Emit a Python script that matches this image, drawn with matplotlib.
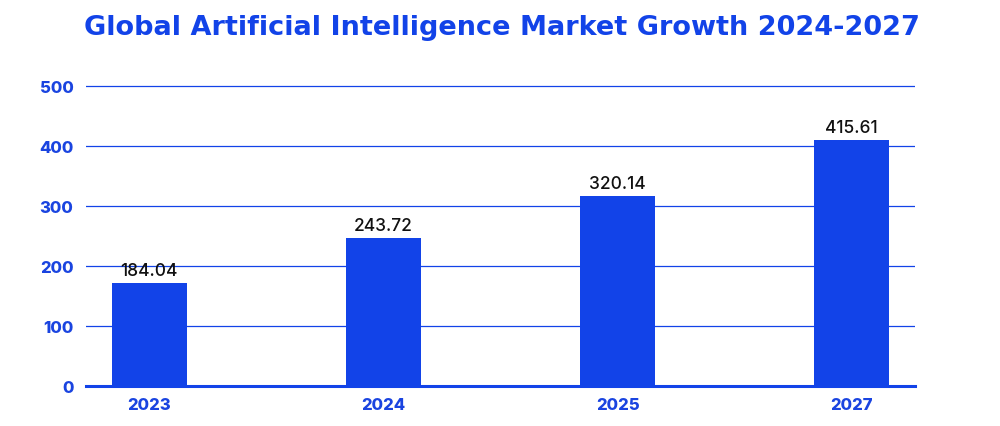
import matplotlib
matplotlib.use("Agg")
import matplotlib.pyplot as plt

categories = ["2023", "2024", "2025", "2027"]
bar_values = [171, 246, 317, 410]
value_labels = ["184.04", "243.72", "320.14", "415.61"]
yticks = [0, 100, 200, 300, 400, 500]

BLUE = "#1243E8"
TICK_BLUE = "#1A44E0"

plt.rcParams['font.family'] = ['Inter', 'DejaVu Sans']

fig = plt.figure(figsize=(10, 4.27), dpi=100)
ax = fig.add_axes([0.086, 1 - 387/427, 0.829, (387 - 84)/427])

x = range(len(categories))
ax.bar(x, bar_values, width=0.32, color=BLUE, zorder=3)

for xi, v, lab in zip(x, bar_values, value_labels):
    ax.annotate(lab, (xi, v), xytext=(0, 3), textcoords="offset points",
                ha="center", va="bottom", fontsize=12.5, color="#111111",
                fontweight="medium", zorder=4)

ax.set_xlim(-0.27, 3.27)
ax.set_ylim(0, 505)
ax.set_xticks(list(x))
ax.set_xticklabels(categories)
ax.set_yticks(yticks)
ax.set_yticklabels([str(t) for t in yticks])

ax.tick_params(axis="both", length=0, colors=TICK_BLUE)
ax.tick_params(axis="y", pad=9, labelsize=12)
ax.tick_params(axis="x", pad=8, labelsize=12)
for lbl in ax.get_xticklabels() + ax.get_yticklabels():
    lbl.set_fontweight("heavy")
    lbl.set_color(TICK_BLUE)

ax.yaxis.grid(True, color=BLUE, linewidth=0.9, zorder=0)
ax.set_axisbelow(True)
for s in ["top", "right", "left"]:
    ax.spines[s].set_visible(False)
ax.spines["bottom"].set_color(BLUE)
ax.spines["bottom"].set_linewidth(2.2)
ax.spines["bottom"].set_zorder(5)

fig.text(0.502, 1 - 28/427, "Global Artificial Intelligence Market Growth 2024-2027",
         ha="center", va="center", fontsize=19.5, fontweight="bold", color=BLUE,
         family=["DejaVu Sans"])

fig.savefig("out.png", dpi=100)
